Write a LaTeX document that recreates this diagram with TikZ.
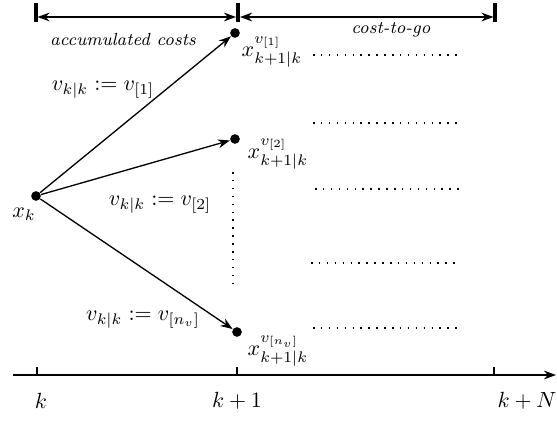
\documentclass[tikz,border=0pt]{standalone}
\usepackage{tikz}
\usetikzlibrary{arrows.meta}
\tikzset{
  statept/.style={circle,fill=black,inner sep=0pt,minimum size=4.4pt},
  dotrow/.style={line width=.7pt,dash pattern=on .7pt off 2.9pt},
  endbar/.style={line width=1.5pt},
}

\begin{document}
\begin{tikzpicture}[x=0.016cm,y=-0.016cm,>={Stealth[length=5.5pt,width=4pt]}]
\path[use as bounding box] (0,0) rectangle (557,439);
% horizon brackets
\draw[endbar] (36,3) -- (36,22);
\draw[endbar] (238,3) -- (238,22);
\draw[endbar] (495,3) -- (495,22);
\coordinate (b0) at (37.5,17);
\coordinate (b1l) at (236,17);
\coordinate (b1r) at (240,17);
\coordinate (b2) at (493.5,17);
\draw[<->,semithick] (b0) -- (b1l);
\draw[<->,semithick] (b1r) -- (b2);
\node (acc) at (123,39) {\footnotesize\itshape accumulated costs};
\node (ctg) at (391,30) {\footnotesize\itshape cost-to-go};
% states
\node[statept] (xk) at (36,196) {};
\node[statept] (x1) at (235,33) {};
\node[statept] (x2) at (235,139) {};
\node[statept] (x3) at (237,332) {};
\node (lxk) at (24,214) {$x_k$};
\node (lx1) at (272,52) {$x^{v_{[1]}}_{k+1|k}$};
\node (lx2) at (278,154) {$x^{v_{[2]}}_{k+1|k}$};
\node (lx3) at (278,351) {$x^{v_{[n_v]}}_{k+1|k}$};
\draw[->,semithick] (xk) -- (x1);
\draw[->,semithick] (xk) -- (x2);
\draw[->,semithick] (xk) -- (x3);
\node (e1) at (103,90) {$v_{k|k}:=v_{[1]}$};
\node (e2) at (160,205) {$v_{k|k}:=v_{[2]}$};
\node (e3) at (143,320) {$v_{k|k}:=v_{[n_v]}$};
% dots
\draw[dotrow] (233,172) -- (233,286);
\foreach \y/\a/\b in {55/313/459,123/313/459,189/315/462,263/311/458,328/313/460}
  \draw[dotrow] (\a,\y) -- (\b,\y);
% time axis
\draw[->,semithick] (13,375) -- (556,375);
\foreach \x in {37,237,494}
  \draw[semithick] (\x,367) -- (\x,375);
\node (tk) at (41,401) {$k$};
\node (tk1) at (237,401) {$k+1$};
\node (tkN) at (527,401) {$k+N$};
\end{tikzpicture}
\end{document}
